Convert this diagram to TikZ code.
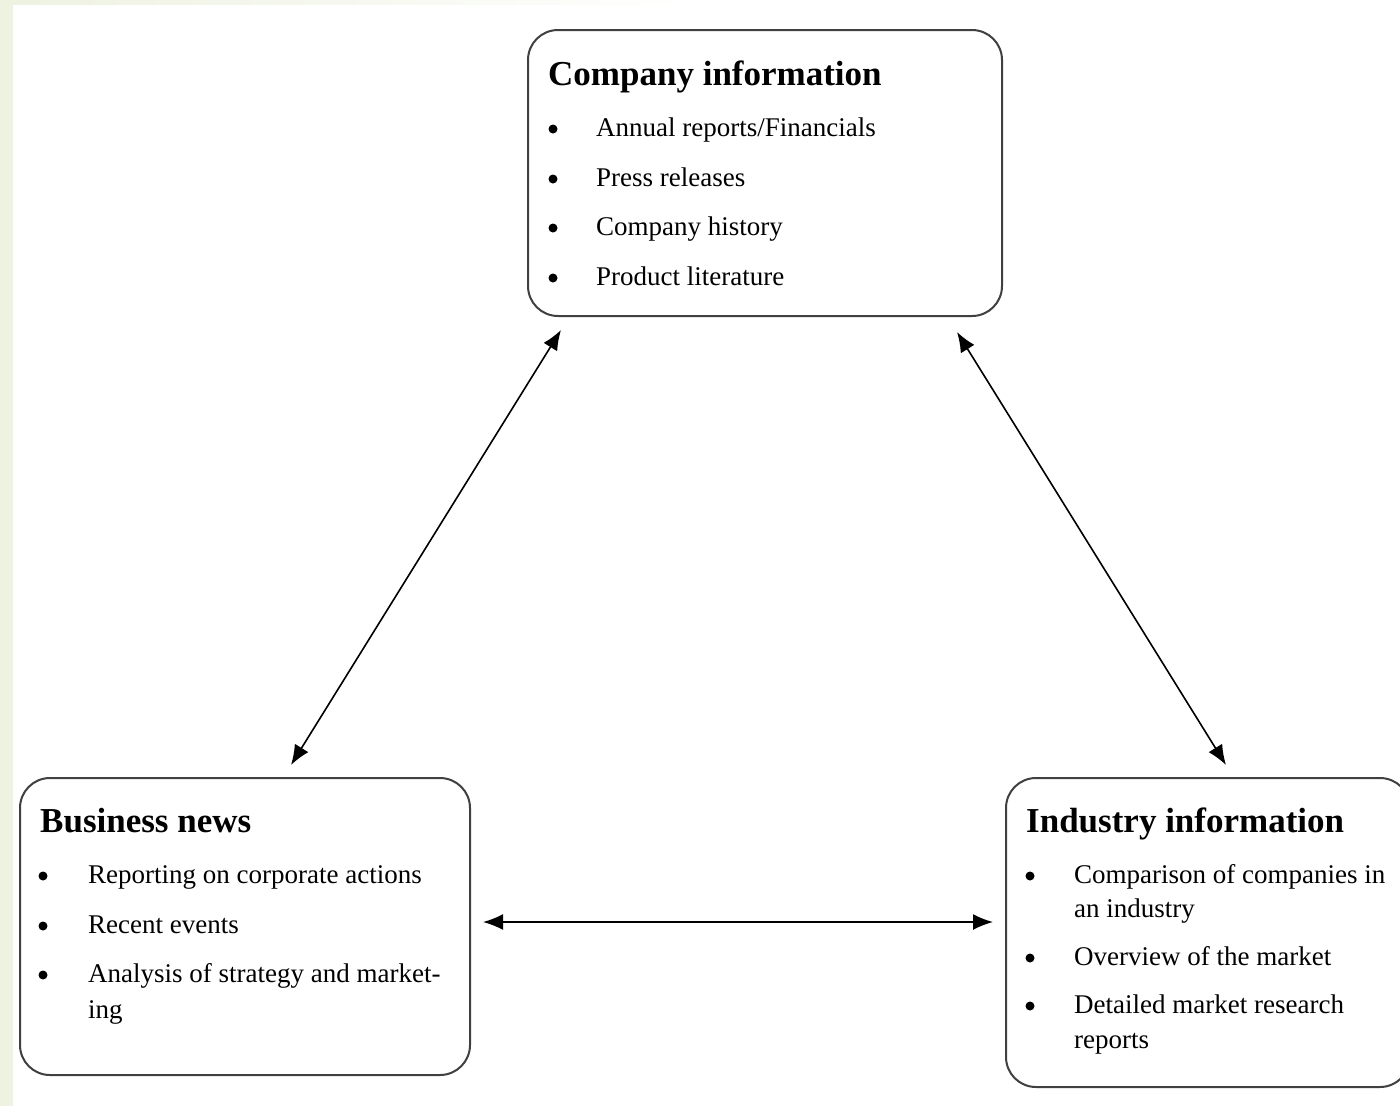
\documentclass[tikz,border=0pt]{standalone}
\usepackage{fontspec}
\setmainfont{Liberation Serif}
\usetikzlibrary{arrows.meta}
\definecolor{sidetint}{RGB}{238,242,225}
\begin{document}
\begin{tikzpicture}[x=1pt,y=-1pt,
    infobox/.style={draw=black!75,line width=2pt,rounded corners=30pt,inner sep=0pt},
    boxtitle/.style={anchor=base west,inner sep=0pt,font=\fontsize{35}{42}\selectfont\bfseries},
    entry/.style={anchor=base west,inner sep=0pt,font=\fontsize{27}{36}\selectfont},
    bulletdot/.style={circle,fill=black,inner sep=0pt,minimum size=9pt},
    link/.style={{Latex[length=20pt,width=16pt]}-{Latex[length=20pt,width=16pt]},line width=1.6pt}]
\useasboundingbox (0,0) rectangle (1400,1106);
% Page tint on the left and along the top
\fill[sidetint] (0,0) rectangle (13,1106);
\fill[white] (13,0) rectangle (1400,1106);
\shade[left color=sidetint,right color=white] (13,0) rectangle (700,4);
% Company information box (top)
\node[infobox,minimum width=474pt,minimum height=286pt] (company) at (765,173) {};
\node[boxtitle] (companyhead) at (548,85) {Company information};
\node[bulletdot] (cb1) at (553,129) {};
\node[entry] (ct1) at (596,136) {Annual reports/Financials};
\node[bulletdot] (cb2) at (553,179) {};
\node[entry] (ct2) at (596,186) {Press releases};
\node[bulletdot] (cb3) at (553,228) {};
\node[entry] (ct3) at (596,235) {Company history};
\node[bulletdot] (cb4) at (553,278) {};
\node[entry] (ct4) at (596,285) {Product literature};
% Business news box (bottom left)
\node[infobox,minimum width=450pt,minimum height=297pt] (business) at (245,926.5) {};
\node[boxtitle] (businesshead) at (40,832) {Business news};
\node[bulletdot] (bb1) at (43,876) {};
\node[entry] (bt1) at (88,883) {Reporting on corporate actions};
\node[bulletdot] (bb2) at (43,926) {};
\node[entry] (bt2) at (88,933) {Recent events};
\node[bulletdot] (bb3) at (43,975) {};
\node[entry] (bt3) at (88,982) {Analysis of strategy and market-};
\node[entry] (bt3b) at (88,1018) {ing};
% Industry information box (bottom right, runs past the edge)
\node[infobox,minimum width=404pt,minimum height=309pt] (industry) at (1208,932.5) {};
\node[boxtitle] (industryhead) at (1026,832) {Industry information};
\node[bulletdot] (ib1) at (1030,876) {};
\node[entry] (it1) at (1074,883) {Comparison of companies in};
\node[entry] (it1b) at (1074,917) {an industry};
\node[bulletdot] (ib2) at (1030,958) {};
\node[entry] (it2) at (1074,965) {Overview of the market};
\node[bulletdot] (ib3) at (1030,1006) {};
\node[entry] (it3) at (1074,1013) {Detailed market research};
\node[entry] (it3b) at (1074,1048) {reports};
% Two-way links between the boxes
\draw[link] ([xshift=34pt,yshift=-13pt]company.south west) -- ([xshift=272pt,yshift=12pt]business.north west);
\draw[link] ([xshift=-46pt,yshift=-15pt]company.south east) -- ([xshift=221pt,yshift=12pt]industry.north west);
\draw[link] ([xshift=12pt,yshift=4.5pt]business.east) -- ([xshift=-12pt,yshift=10.5pt]industry.west);
\end{tikzpicture}
\end{document}
